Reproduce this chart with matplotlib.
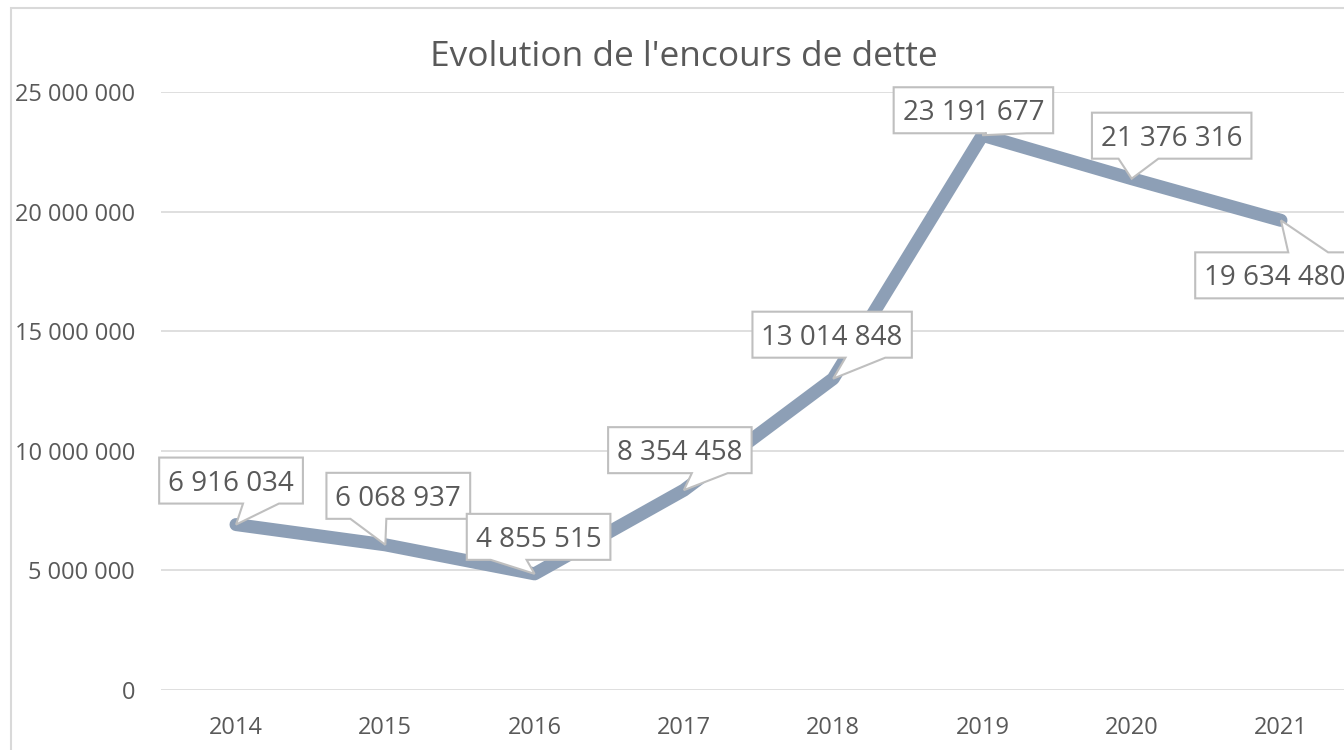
"""
Evolution de l'encours de dette - Excel-like line chart with callout labels
"""
import numpy as np
import matplotlib
matplotlib.use("Agg")
import matplotlib.pyplot as plt
import matplotlib.transforms as mtransforms
from matplotlib.patches import Polygon, Rectangle

years = ['2014', '2015', '2016', '2017', '2018', '2019', '2020', '2021']
encours = [6916034, 6068937, 4855515, 8354458, 13014848, 23191677, 21376316, 19634480]
yticks = [0, 5000000, 10000000, 15000000, 20000000, 25000000]

# offset (px) of each label box centre from its point, y up
label_offsets = [(-5, 44), (13, 49), (4, 37), (-4, 40), (-1, 44), (-9, 25), (40, 43), (-6, -55)]

W, H, DPI = 1344, 750, 100
grey_txt = '#595959'
grid_col = '#D9D9D9'
line_col = '#8D9FB6'
box_edge = '#BFBFBF'

plt.rcParams['font.family'] = ['Open Sans', 'DejaVu Sans']

fig = plt.figure(figsize=(W / DPI, H / DPI), dpi=DPI)
ident = mtransforms.IdentityTransform()

# chart area border (right and bottom are cut off in the reference)
fig.add_artist(Rectangle((11, -20), W + 50, H - 8 + 20, transform=ident,
                         fill=False, edgecolor=grid_col, linewidth=1.5))

ax = fig.add_axes([161.4 / W, 60 / H, (1355.6 - 161.4) / W, 598 / H])
x = np.arange(len(years))
ax.plot(x, encours, color=line_col, linewidth=9.4, solid_capstyle='round',
        solid_joinstyle='round', zorder=2)

ax.set_xlim(-0.5, len(years) - 0.5)
ax.set_ylim(0, 25000000)
ax.set_yticks(yticks)
ax.set_yticklabels([f"{v:,.0f}".replace(",", " ") for v in yticks])
ax.set_xticks(x)
ax.set_xticklabels(years)
ax.tick_params(axis='y', length=0, pad=19, labelsize=17, labelcolor=grey_txt)
ax.tick_params(axis='x', length=0, pad=18.5, labelsize=17, labelcolor=grey_txt)
ax.yaxis.grid(True, color=grid_col, linewidth=1.2)
ax.set_axisbelow(True)
for s in ax.spines.values():
    s.set_visible(False)

fig.text(684 / W, 1 - 57 / H, "Evolution de l'encours de dette", ha='center',
         va='center', fontsize=25.4, color=grey_txt)

# callout labels
renderer = fig.canvas.get_renderer()
fs = 20
box_h = 46
for i, v in enumerate(encours):
    px, py = ax.transData.transform((x[i], v))
    dx, dy = label_offsets[i]
    cx, cy = px + dx, py + dy
    lbl = f"{v:,.0f}".replace(",", " ")
    t = ax.text(cx, cy - fs * DPI / 72 * 0.36, lbl, transform=ident, ha='center',
                va='baseline', fontsize=fs, color=grey_txt, zorder=5, clip_on=False)
    tw = t.get_window_extent(renderer).width
    bw = tw + 18
    x0, x1 = cx - bw / 2, cx + bw / 2
    y0, y1 = cy - box_h / 2, cy + box_h / 2
    if px < cx:
        xa, xb = x0 + bw * 2 / 12, x0 + bw * 5 / 12
    else:
        xa, xb = x0 + bw * 7 / 12, x0 + bw * 10 / 12
    if py < y0:
        verts = [(x0, y0), (xa, y0), (px, py), (xb, y0), (x1, y0), (x1, y1), (x0, y1)]
    elif py > y1:
        verts = [(x0, y0), (x1, y0), (x1, y1), (xb, y1), (px, py), (xa, y1), (x0, y1)]
    else:
        verts = [(x0, y0), (x1, y0), (x1, y1), (x0, y1)]
    ax.add_patch(Polygon(verts, closed=True, transform=ident, facecolor='white',
                         edgecolor=box_edge, linewidth=1.5, zorder=4, clip_on=False))

fig.savefig('out.png', dpi=DPI)
